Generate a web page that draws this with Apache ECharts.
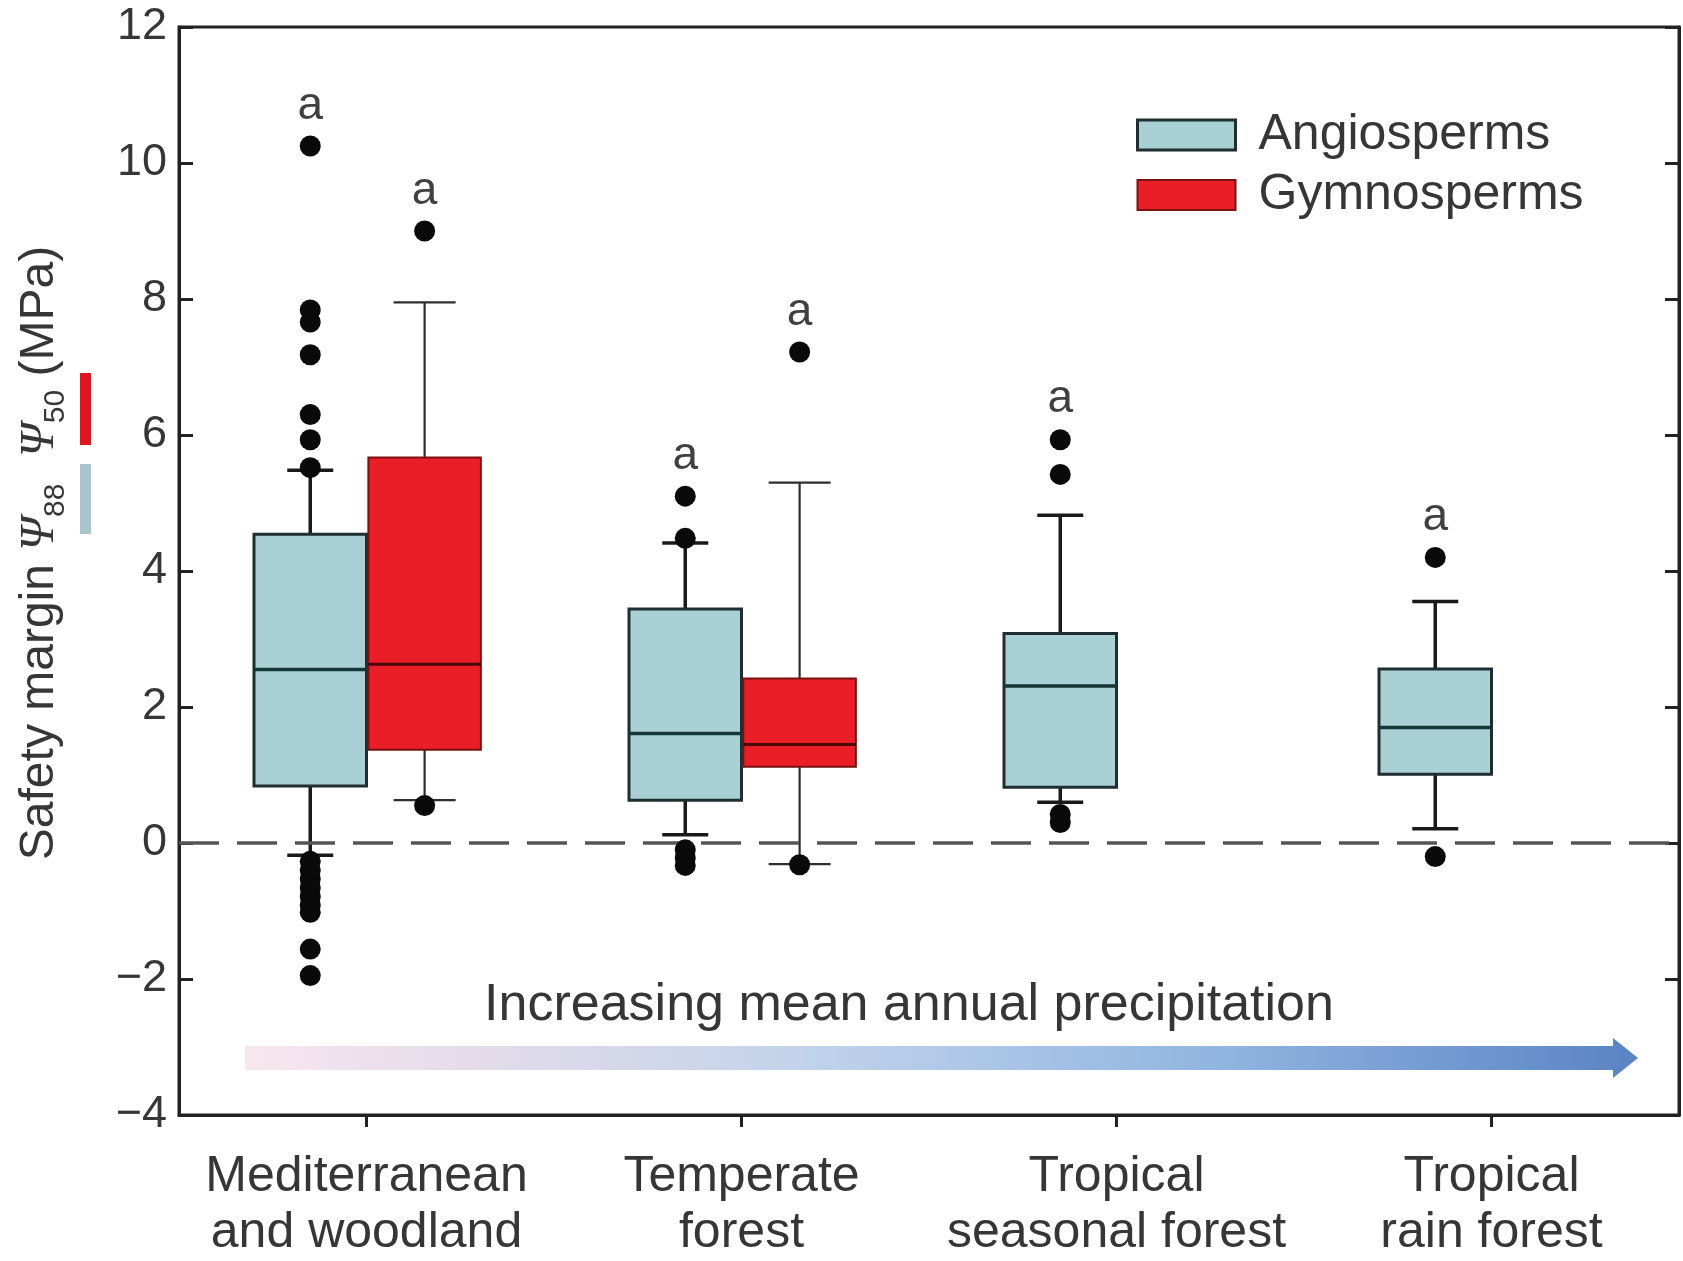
<!DOCTYPE html>
<html>
<head>
<meta charset="utf-8">
<script src="https://cdn.jsdelivr.net/npm/echarts@6/dist/echarts.min.js"></script>
<style>
html,body{margin:0;padding:0;background:#fff;}
#chart{width:1683px;height:1261px;}
</style>
</head>
<body>
<div id="chart"></div>
<script>
// ---------- data ----------
const categories = ['Mediterranean\nand woodland', 'Temperate\nforest', 'Tropical\nseasonal forest', 'Tropical\nrain forest'];
const seriesNames = ['Angiosperms', 'Gymnosperms'];
const yMin = -4, yMax = 12, yStep = 2;

// [lower whisker, Q1, median, Q3, upper whisker]
const angioStats = [
  [-0.18, 0.84, 2.55, 4.54, 5.48],
  [0.12, 0.63, 1.61, 3.44, 4.41],
  [0.60, 0.82, 2.31, 3.08, 4.82],
  [0.21, 1.01, 1.70, 2.56, 3.55]
];
const gymnoStats = [
  [0.63, 1.37, 2.63, 5.67, 7.95],
  [-0.31, 1.12, 1.45, 2.42, 5.30]
];
const angioOutliers = [
  [10.25, 7.84, 7.66, 7.18, 6.30, 5.93, 5.52, -0.27, -0.40, -0.53, -0.66, -0.79, -0.92, -1.02, -1.56, -1.95],
  [5.10, 4.48, -0.10, -0.22, -0.33],
  [5.93, 5.42, 0.42, 0.30],
  [4.20, -0.20]
];
const gymnoOutliers = [
  [9.00, 0.55],
  [7.22, -0.32]
];
const angioLetters = ['a', 'a', 'a', 'a'];
const gymnoLetters = ['a', 'a'];
const precipText = 'Increasing mean annual precipitation';

// ---------- layout / style ----------
const W = 1683, H = 1261;
const GL = 179, GR = 4, GT = 27, GB = 141;
const BAND = (W - GL - GR) / categories.length;
const BOXW = 0.30;          // fraction of band
const OFF = [-0.15, 0.155]; // centre offsets (fraction of band)
const FONT = '"Liberation Sans", Arial, Helvetica, sans-serif';
const TXT = '#363636';

const styles = [
  {fill: '#a9d0d5', stroke: '#1f2e30', boxLW: 3, wColor: '#1a1a1a', wLW: 3.5, mColor: '#163638', mLW: 3.5, cap: 46},
  {fill: '#e91e26', stroke: '#7a1212', boxLW: 2, wColor: '#2e2e2e', wLW: 2.2, mColor: '#4a0808', mLW: 3, cap: 62}
];

function boxData(stats, outs) {
  return stats.map((s, i) => [i].concat(s).concat([Math.max(s[4], ...outs[i])]));
}
function outlierData(outs) {
  const d = [];
  outs.forEach((arr, i) => arr.forEach(v => d.push([i, v])));
  return d;
}

function makeRender(k, letters) {
  const st = styles[k];
  return function (params, api) {
    const idx = api.value(0);
    const band = api.size([1, 0])[0];
    const cx = api.coord([idx, 0])[0] + OFF[k] * band;
    const w = BOXW * band;
    const y = j => api.coord([idx, api.value(j)])[1];
    const yLo = y(1), yQ1 = y(2), yMed = y(3), yQ3 = y(4), yHi = y(5), yTop = y(6);
    const hc = st.cap / 2;
    return {
      type: 'group',
      children: [
        {type: 'line', shape: {x1: cx, y1: yQ3, x2: cx, y2: yHi}, style: {stroke: st.wColor, lineWidth: st.wLW}},
        {type: 'line', shape: {x1: cx, y1: yQ1, x2: cx, y2: yLo}, style: {stroke: st.wColor, lineWidth: st.wLW}},
        {type: 'line', shape: {x1: cx - hc, y1: yHi, x2: cx + hc, y2: yHi}, style: {stroke: st.wColor, lineWidth: st.wLW}},
        {type: 'line', shape: {x1: cx - hc, y1: yLo, x2: cx + hc, y2: yLo}, style: {stroke: st.wColor, lineWidth: st.wLW}},
        {type: 'rect', shape: {x: cx - w / 2, y: yQ3, width: w, height: yQ1 - yQ3}, style: {fill: st.fill, stroke: st.stroke, lineWidth: st.boxLW}},
        {type: 'line', shape: {x1: cx - w / 2, y1: yMed, x2: cx + w / 2, y2: yMed}, style: {stroke: st.mColor, lineWidth: st.mLW}},
        {type: 'text', style: {text: letters[params.dataIndex], x: cx, y: yTop - 40, align: 'center', verticalAlign: 'middle', font: '46px ' + FONT, fill: '#404040'}}
      ]
    };
  };
}

function scatterSeries(name, outs, k, withLine) {
  const s = {
    name: name,
    type: 'scatter',
    data: outlierData(outs),
    symbol: 'circle',
    symbolSize: 21,
    symbolOffset: [OFF[k] * BAND, 0],
    itemStyle: {color: '#0a0a0a', opacity: 1},
    z: 5,
    silent: true
  };
  if (withLine) {
    s.markLine = {
      silent: true, symbol: 'none', label: {show: false},
      lineStyle: {type: [40, 18], width: 3.5, color: '#555555', opacity: 1},
      emphasis: {disabled: true},
      data: [{yAxis: 0}]
    };
  }
  return s;
}

const minusFmt = v => String(v).replace('-', '\u2212');

const chart = echarts.init(document.getElementById('chart'), null, {renderer: 'canvas'});
const yAxisBase = {
  type: 'value', min: yMin, max: yMax, interval: yStep,
  splitLine: {show: false},
  axisLine: {show: true, lineStyle: {color: '#222', width: 3}},
  axisTick: {show: true, inside: true, length: 14, lineStyle: {color: '#222', width: 3}}
};
chart.setOption({
  animation: false,
  backgroundColor: '#ffffff',
  grid: {left: GL, right: GR, top: GT, bottom: GB, show: true, borderColor: '#222', borderWidth: 3, backgroundColor: 'transparent'},
  xAxis: {
    type: 'category', data: categories, boundaryGap: true,
    axisLine: {show: true, onZero: false, lineStyle: {color: '#222', width: 3}},
    axisTick: {show: true, alignWithLabel: true, inside: false, length: 12, lineStyle: {color: '#222', width: 3}},
    axisLabel: {interval: 0, fontSize: 50, lineHeight: 56, color: TXT, fontFamily: FONT, margin: 34},
    splitLine: {show: false}
  },
  yAxis: [
    Object.assign({}, yAxisBase, {position: 'left', axisLabel: {fontSize: 45, color: TXT, fontFamily: FONT, margin: 12, formatter: minusFmt}}),
    Object.assign({}, yAxisBase, {position: 'right', axisLabel: {show: false}})
  ],
  legend: {
    orient: 'vertical', left: 1136, top: 107, padding: 0,
    itemWidth: 98, itemHeight: 30, itemGap: 4, icon: 'rect',
    selectedMode: false,
    textStyle: {fontSize: 50, lineHeight: 56, color: TXT, fontFamily: FONT, padding: [0, 0, 0, 18]},
    data: [
      {name: seriesNames[0], itemStyle: {color: styles[0].fill, borderColor: styles[0].stroke, borderWidth: 3}},
      {name: seriesNames[1], itemStyle: {color: styles[1].fill, borderColor: styles[1].stroke, borderWidth: 2}}
    ]
  },
  series: [
    {
      name: seriesNames[0], type: 'custom', renderItem: makeRender(0, angioLetters),
      data: boxData(angioStats, angioOutliers), encode: {x: 0, y: [1, 2, 3, 4, 5, 6]},
      itemStyle: {color: styles[0].fill, borderColor: styles[0].stroke}, z: 3, silent: true
    },
    {
      name: seriesNames[1], type: 'custom', renderItem: makeRender(1, gymnoLetters),
      data: boxData(gymnoStats, gymnoOutliers), encode: {x: 0, y: [1, 2, 3, 4, 5, 6]},
      itemStyle: {color: styles[1].fill, borderColor: styles[1].stroke}, z: 3, silent: true
    },
    scatterSeries('Angiosperm outliers', angioOutliers, 0, true),
    scatterSeries('Gymnosperm outliers', gymnoOutliers, 1, false)
  ],
  graphic: [
    {
      type: 'text', x: 40, y: 553, rotation: Math.PI / 2, z: 10,
      style: {
        text: '{t|Safety margin }{p|Ψ}{s|88}{t|  }{p|Ψ}{s|50}{t| (MPa)}',
        align: 'center', verticalAlign: 'middle',
        rich: {
          t: {fontSize: 48, fontFamily: FONT, fill: TXT, lineHeight: 62, verticalAlign: 'middle'},
          p: {fontSize: 48, fontFamily: '"Liberation Serif", "DejaVu Serif", serif', fontStyle: 'italic', fill: TXT, lineHeight: 62, verticalAlign: 'middle'},
          s: {fontSize: 30, fontFamily: FONT, fill: TXT, lineHeight: 32, verticalAlign: 'bottom'}
        }
      }
    },
    {type: 'rect', shape: {x: 80, y: 464, width: 11, height: 70}, style: {fill: '#a7c6cc'}},
    {type: 'rect', shape: {x: 80, y: 373, width: 11, height: 72}, style: {fill: '#e2141e'}},
    {
      type: 'polygon', z: 1,
      shape: {points: [[245, 1046], [1613, 1046], [1613, 1038], [1638, 1058], [1613, 1078], [1613, 1070], [245, 1070]]},
      style: {
        fill: new echarts.graphic.LinearGradient(0, 0, 1, 0, [
          {offset: 0, color: '#f7e6ef'},
          {offset: 0.15, color: '#e6dcea'},
          {offset: 0.4, color: '#c2d3eb'},
          {offset: 0.7, color: '#90b5e0'},
          {offset: 1, color: '#5a83c4'}
        ])
      }
    },
    {
      type: 'text', x: 909, y: 1006, z: 10,
      style: {text: precipText, align: 'center', verticalAlign: 'middle', font: '52px ' + FONT, fill: TXT}
    }
  ]
});
</script>
</body>
</html>
